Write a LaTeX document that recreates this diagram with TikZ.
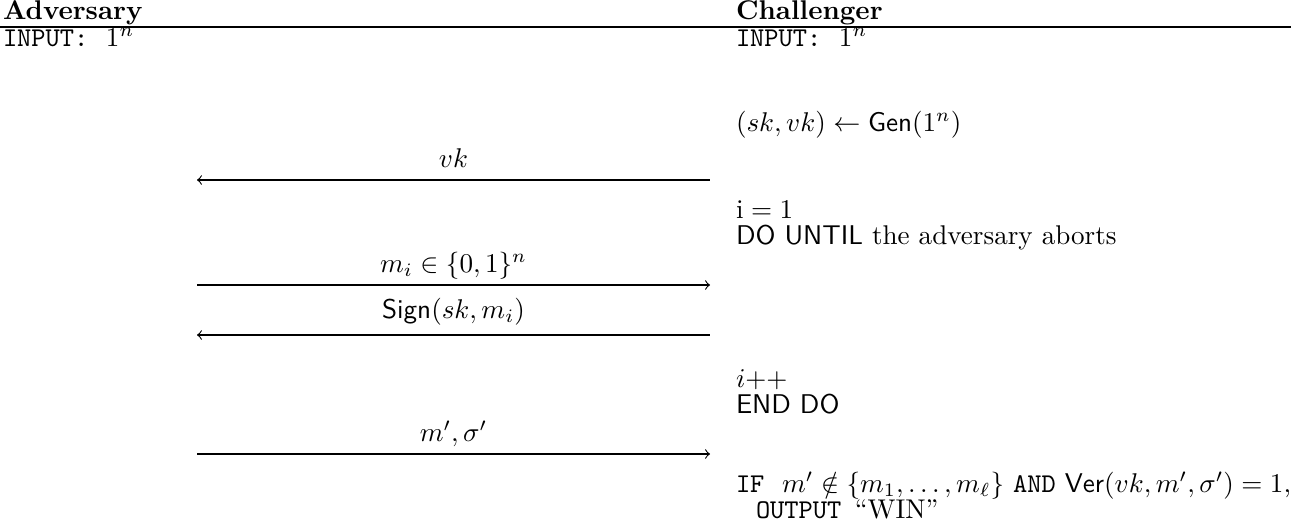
\documentclass[tikz,border=0pt]{standalone}
\usepackage{amsmath,amssymb}
\usepackage{fontspec}
\usetikzlibrary{calc}
\begin{document}
\begin{tikzpicture}[x=0.369pt,y=-0.369pt,
  txt/.style={anchor=base west,inner sep=0pt,outer sep=0pt},
  msg/.style={line width=0.4pt},
  lbl/.style={anchor=base,inner sep=0pt}]
\useasboundingbox (0,0) rectangle (1291,522);
% headers
\node[txt] (hA) at (3,19) {\textbf{Adversary}};
\node[txt] (hC) at (736,19) {\textbf{Challenger}};
\draw[line width=0.4pt] (0,27) coordinate (ru1) -- (1291,27) coordinate (ru2);
% inputs
\node[txt] (inA) at (3,46) {\texttt{INPUT:}\hspace{6.5pt}$1^n$};
\node[txt] (inC) at (736,46) {\texttt{INPUT:}\hspace{6.5pt}$1^n$};
% challenger steps
\node[txt] (gen) at (736,131) {$(sk,vk)\leftarrow \mathsf{Gen}(1^n)$};
\node[txt] (i1) at (736,218) {$\mathrm{i}=1$};
\node[txt] (du) at (736,244) {\textsf{DO UNTIL} the adversary aborts};
\node[txt] (ipp) at (736,387) {$i$\textsf{++}};
\node[txt] (ed) at (736,413) {\textsf{END DO}};
\node[txt] (ifl) at (736,492) {\texttt{IF}\hspace{6.5pt}$m'\notin\{m_1,\ldots,m_\ell\}$ \texttt{AND} $\mathsf{Ver}(vk,m',\sigma')=1$,};
\node[txt] (out) at (756,518) {\texttt{OUTPUT}\hspace{5pt}``WIN''};
% arrows
\coordinate (l1) at (197,180); \coordinate (r1) at (710,180);
\coordinate (l2) at (197,285); \coordinate (r2) at (710,285);
\coordinate (l3) at (197,335); \coordinate (r3) at (710,335);
\coordinate (l4) at (197,454); \coordinate (r4) at (710,454);
\draw[msg,<-] (l1) -- (r1);
\draw[msg,->] (l2) -- (r2);
\draw[msg,<-] (l3) -- (r3);
\draw[msg,->] (l4) -- (r4);
\node[lbl] (m1) at ($(l1)!0.5!(r1)+(0,-13)$) {$vk$};
\node[lbl] (m2) at ($(l2)!0.5!(r2)+(0,-13)$) {$m_i\in\{0,1\}^n$};
\node[lbl] (m3) at ($(l3)!0.5!(r3)+(0,-17)$) {$\mathsf{Sign}(sk,m_i)$};
\node[lbl] (m4) at ($(l4)!0.5!(r4)+(0,-13)$) {$m',\sigma'$};
\end{tikzpicture}
\end{document}
